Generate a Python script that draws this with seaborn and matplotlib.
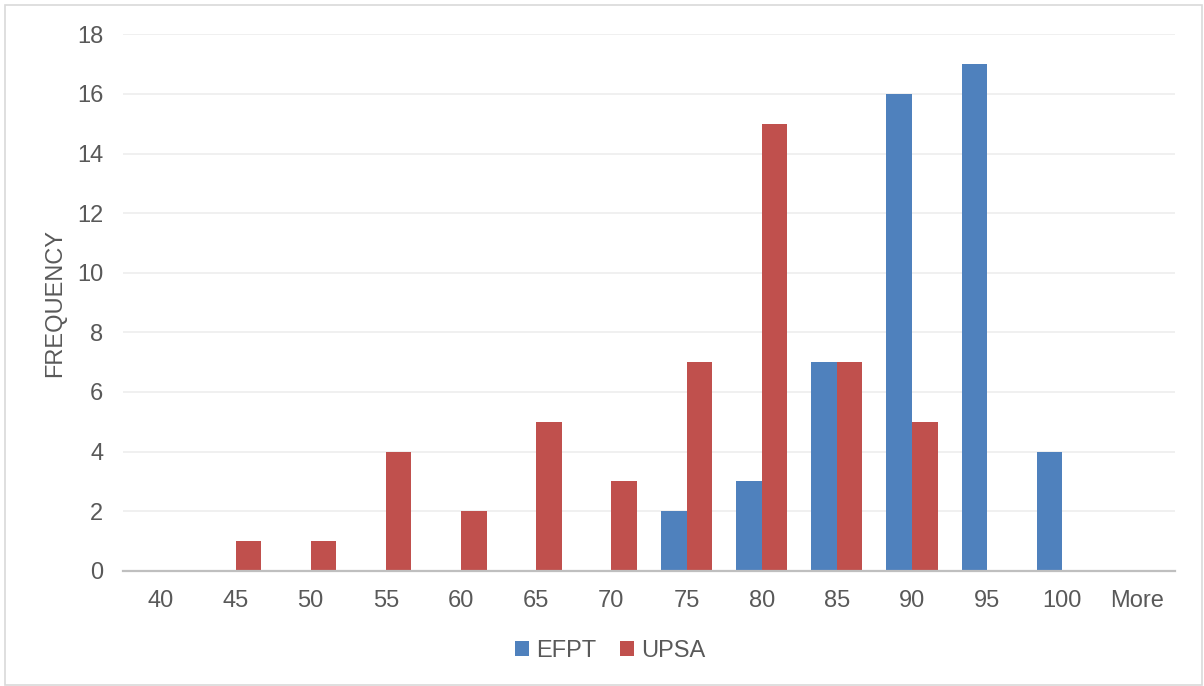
import matplotlib
matplotlib.use("Agg")
import matplotlib.pyplot as plt
import seaborn as sns
import pandas as pd
from matplotlib.patches import Rectangle

categories = ["40", "45", "50", "55", "60", "65", "70", "75", "80", "85", "90", "95", "100", "More"]
efpt = [0, 0, 0, 0, 0, 0, 0, 2, 3, 7, 16, 17, 4, 0]
upsa = [0, 1, 1, 4, 2, 5, 3, 7, 15, 7, 5, 0, 0, 0]
series_names = ["EFPT", "UPSA"]
colors = ["#4F81BD", "#C0504D"]

df = pd.DataFrame({
    "bin": categories * 2,
    "freq": efpt + upsa,
    "series": [series_names[0]] * len(categories) + [series_names[1]] * len(categories),
})

sns.set_theme(style="white")
plt.rcParams["font.family"] = ["Liberation Sans", "DejaVu Sans"]

fig = plt.figure(figsize=(12.04, 6.86), dpi=100)
ax = fig.add_axes([0.102, 0.168, 0.874, 0.782])

sns.barplot(data=df, x="bin", y="freq", hue="series", palette=colors,
            width=0.68, saturation=1, ax=ax, order=categories, hue_order=series_names,
            linewidth=0, edgecolor="none")

ax.set_ylim(0, 18)
ax.set_yticks(range(0, 19, 2))
ax.set_xlim(-0.5, len(categories) - 0.5)
ax.yaxis.grid(True, color="#EDEDED", linewidth=1.2)
ax.set_axisbelow(True)
for s in ["top", "right", "left"]:
    ax.spines[s].set_visible(False)
ax.spines["bottom"].set_color("#BFBFBF")
ax.spines["bottom"].set_linewidth(1.6)
ax.tick_params(axis="y", length=0, labelsize=17, labelcolor="#595959", pad=14)
ax.tick_params(axis="x", length=0, labelsize=17, labelcolor="#595959", pad=14)
ax.set_xlabel("")
ax.set_ylabel("FREQUENCY", fontsize=17, color="#595959", labelpad=8)

ax.legend(loc="center", bbox_to_anchor=(610 / 1204, 1 - 651 / 686),
          bbox_transform=fig.transFigure, ncol=2, frameon=False,
          fontsize=17, labelcolor="#595959", handlelength=0.6, handleheight=0.6,
          columnspacing=1.0, handletextpad=0.3)

fig.patches.append(Rectangle((5 / 1204, 1 / 686), 1197 / 1204, 680 / 686,
                             transform=fig.transFigure, fill=False,
                             edgecolor="#D9D9D9", linewidth=1.2))

fig.savefig("out.png", dpi=100)
